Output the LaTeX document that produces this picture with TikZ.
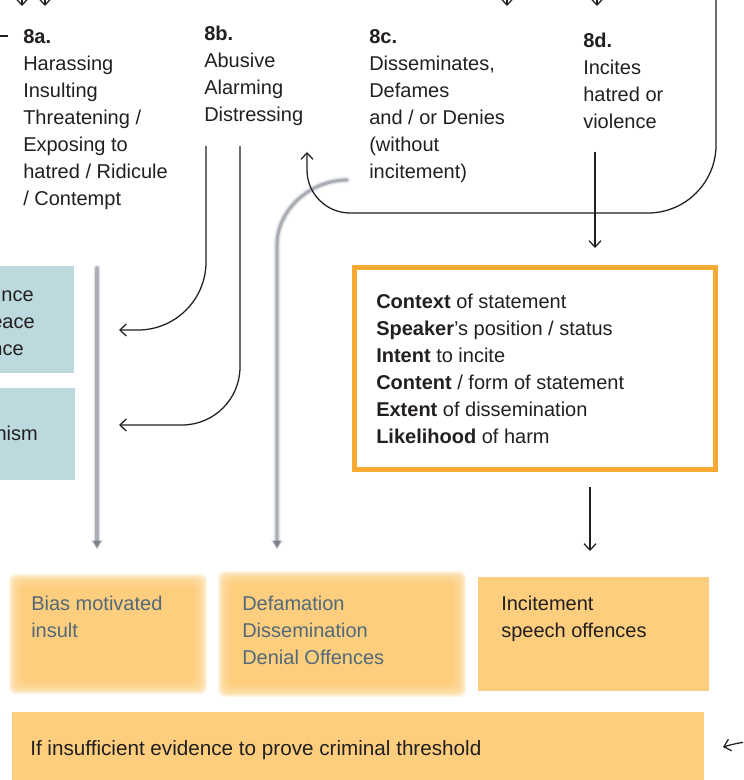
\documentclass[tikz,border=0pt]{standalone}
\usepackage{fontspec}
\setmainfont{Liberation Sans}
\usetikzlibrary{arrows.meta}
\definecolor{ink}{HTML}{231F20}
\definecolor{tealbox}{HTML}{BCD9DD}
\definecolor{ochre}{HTML}{FCCE7E}
\definecolor{orangeline}{HTML}{F8A932}
\definecolor{slate}{HTML}{53697A}
\definecolor{greyline}{HTML}{ABAFB5}
\definecolor{greytip}{HTML}{6E7580}
\newcommand{\softbox}[4]{%
  \foreach \e in {-8,...,4}{\fill[ochre, fill opacity=0.2, rounded corners=5] (#1-\e,#2-\e) rectangle (#3+\e,#4+\e);}
  \fill[ochre, rounded corners=3] (#1+8,#2+8) rectangle (#3-8,#4-8);}
\newcommand{\softline}[1]{%
  \draw[greyline, line width=6pt, opacity=0.1, line cap=round] #1;
  \draw[greyline, line width=4.2pt, opacity=0.25, line cap=round] #1;
  \draw[greyline, line width=2.4pt, line cap=round] #1;}
\newcommand{\softtip}[2]{%
  \fill[greytip, opacity=0.25] (#1-6,#2-8) -- (#1+6,#2-8) -- (#1,#2+2) -- cycle;
  \fill[greytip, opacity=0.8] (#1-4,#2-7) -- (#1+4,#2-7) -- (#1,#2) -- cycle;}
\begin{document}
\begin{tikzpicture}[x=0.75pt,y=-0.75pt,
  txt/.style={font=\fontsize{15}{20.25}\selectfont, text=ink, align=left, anchor=north west, inner sep=0pt},
  frag/.style={font=\fontsize{15}{20.25}\selectfont, text=ink, anchor=base east, inner sep=0pt},
  arr/.style={draw=ink, line width=0.95pt, -{Straight Barb[length=4.8pt,width=9pt]}},
  plain/.style={draw=ink, line width=0.95pt}]
\useasboundingbox (0,0) rectangle (743,780);
\clip (0,0) rectangle (743,780);

% teal boxes (cut off at left)
\fill[tealbox] (-5,266) rectangle (74,373);
\fill[tealbox] (-5,388) rectangle (75,480);
\node[frag] (t1) at (34,301) {nce};
\node[frag] (t2) at (35,328) {eace};
\node[frag] (t3) at (24,355) {nce};
\node[frag] (t4) at (38,440) {nism};

% column headings
\node[txt] (a8) at (23,29) {\textbf{8a.}\\Harassing\\Insulting\\Threatening /\\Exposing to\\hatred / Ridicule\\/ Contempt};
\node[txt] (b8) at (204,26) {\textbf{8b.}\\Abusive\\Alarming\\Distressing};
\node[txt] (c8) at (369,29) {\textbf{8c.}\\Disseminates,\\Defames\\and / or Denies\\(without\\incitement)};
\node[txt] (d8) at (583,33) {\textbf{8d.}\\Incites\\hatred or\\violence};

% factors box
\draw[orangeline, line width=3.75pt] (354.5,267.5) rectangle (715.5,469.5);
\node[txt] (fac) at (376,294) {\textbf{Context} of statement\\\textbf{Speaker}'s position / status\\\textbf{Intent} to incite\\\textbf{Content} / form of statement\\\textbf{Extent} of dissemination\\\textbf{Likelihood} of harm};

% soft (blurred) outcome boxes
\softbox{13}{578}{203}{690}
\softbox{222}{575}{462}{693}
\node[txt, text=slate] (bias) at (31,596) {Bias motivated\\insult};
\node[txt, text=slate] (defa) at (242,596) {Defamation\\Dissemination\\Denial Offences};

% incitement box
\fill[ochre] (478,577) rectangle (709,691);
\node[txt] (inc) at (501,596) {Incitement\\speech offences};

% bottom box
\fill[ochre] (12,712) rectangle (704,785);
\node[font=\fontsize{15.5}{20.25}\selectfont, text=ink, anchor=base west, inner sep=0pt] (ins) at (30,755) {If insufficient evidence to prove criminal threshold};

% grey soft connectors
\softline{(97,268) -- (97,542)}
\softtip{97}{548}
\softline{(347,180) .. controls (311,180) and (277,209) .. (277,245) -- (277,542)}
\softtip{277}{548}

% top arrows coming from above
\coordinate (p1) at (22,-5); \coordinate (q1) at (22,6);
\coordinate (p2) at (45,-5); \coordinate (q2) at (45,6);
\coordinate (p3) at (507,-5); \coordinate (q3) at (507,6);
\coordinate (p4) at (597,-5); \coordinate (q4) at (597,6);
\draw[arr] (p1) -- (q1);
\draw[arr] (p2) -- (q2);
\draw[arr] (p3) -- (q3);
\draw[arr] (p4) -- (q4);
\coordinate (h0) at (-2,36); \coordinate (h1) at (8,36);
\draw[plain] (h0) -- (h1);

% big loop on the right back to 8c
\coordinate (r0) at (716,-5);
\coordinate (r1) at (307,152);
\draw[arr] (r0) -- (716,145) .. controls (716,182.5) and (685.5,213) .. (648,213) -- (350,213) .. controls (326.3,213) and (307,193.7) .. (307,170) -- (r1);

% 8d down to factors
\coordinate (d0) at (595,152);
\coordinate (d1) at (595,248);
\draw[arr] (d0) -- (d1);

% 8b lines to teal boxes
\coordinate (s1) at (206,146); \coordinate (e1) at (119,330);
\draw[arr] (s1) -- (206,262) .. controls (206,299.5) and (175.5,330) .. (138,330) -- (e1);
\coordinate (s2) at (240,146); \coordinate (e2) at (119,425);
\draw[arr] (s2) -- (240,367) .. controls (240,399) and (214,425) .. (182,425) -- (e2);

% factors to incitement
\coordinate (f0) at (590,487); \coordinate (f1) at (590,551);
\draw[arr] (f0) -- (f1);

% arrow into bottom box from the right
\coordinate (w0) at (746,742); \coordinate (w1) at (723,747);
\draw[arr] (w0) .. controls (737,743) and (730,745) .. (w1);
\end{tikzpicture}
\end{document}
